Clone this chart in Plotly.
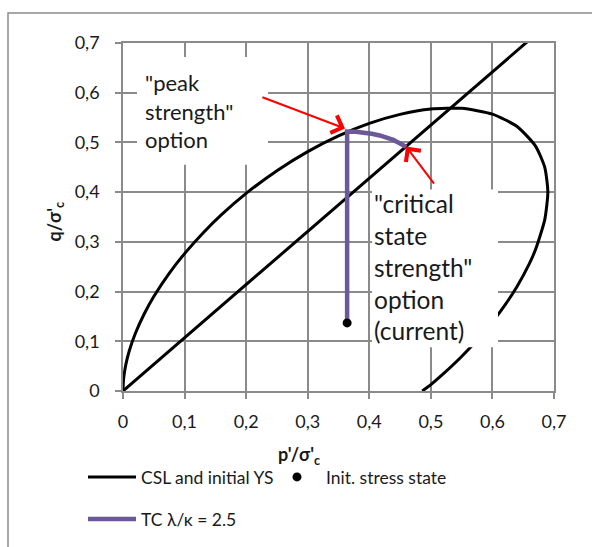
import plotly.graph_objects as go

# Critical state line q = M p'
csl_p = [0.0, 0.70]
csl_q = [0.0, 0.749]

# Initial yield surface (inclined ellipse), upper branch then lower branch
ys_p = [0.0, 0.0005, 0.002, 0.005, 0.01, 0.02, 0.035, 0.05, 0.075, 0.10, 0.13, 0.16,
        0.20, 0.25, 0.30, 0.35, 0.40, 0.45, 0.50, 0.55, 0.60, 0.64, 0.67, 0.685, 0.69,
        0.685, 0.67, 0.66, 0.64, 0.62, 0.60, 0.58, 0.55, 0.52, 0.50, 0.486]
ys_q = [0.0, 0.017, 0.0345, 0.0555, 0.080, 0.1157, 0.1564, 0.1899, 0.2366, 0.2764, 0.318, 0.3547,
        0.3975, 0.4432, 0.4816, 0.5132, 0.5383, 0.5565, 0.5672, 0.5685, 0.557, 0.5321, 0.4927, 0.4499, 0.4002,
        0.3447, 0.2845, 0.2563, 0.2103, 0.1723, 0.139, 0.1093, 0.0695, 0.0343, 0.0128, 0.0]

# Initial stress state
init_p = [0.364]
init_q = [0.137]

# Triaxial compression stress path: vertical rise, then along the yield surface to the CSL
tc_p = [0.364, 0.364, 0.378, 0.390, 0.404, 0.417, 0.428, 0.439, 0.450, 0.460]
tc_q = [0.137, 0.522, 0.5215, 0.520, 0.5175, 0.514, 0.510, 0.505, 0.498, 0.491]

tick_vals = [0.0, 0.1, 0.2, 0.3, 0.4, 0.5, 0.6, 0.7]
tick_text = ["0", "0,1", "0,2", "0,3", "0,4", "0,5", "0,6", "0,7"]

FONT = "Lato"
GRID = "#8a8a8a"
PURPLE = "#6c5a98"

fig = go.Figure()

fig.add_trace(go.Scatter(x=csl_p, y=csl_q, mode="lines", name="CSL and initial YS",
                         line=dict(color="black", width=3), legend="legend"))
fig.add_trace(go.Scatter(x=ys_p, y=ys_q, mode="lines", showlegend=False,
                         line=dict(color="black", width=3, shape="spline", smoothing=0.6)))
fig.add_trace(go.Scatter(x=tc_p, y=tc_q, mode="lines", name="TC \u03bb/\u03ba = 2.5",
                         line=dict(color=PURPLE, width=4.5), legend="legend2"))
fig.add_trace(go.Scatter(x=init_p, y=init_q, mode="markers", name="Init. stress state",
                         marker=dict(color="black", size=9), legend="legend"))

axis_common = dict(
    range=[0, 0.7], tickvals=tick_vals, ticktext=tick_text,
    showgrid=True, gridcolor=GRID, gridwidth=1.5,
    showline=True, linecolor=GRID, linewidth=1.5, mirror=True,
    zeroline=False, ticks="outside", ticklen=6, tickcolor=GRID, tickwidth=1.5,
    tickfont=dict(family=FONT, size=18, color="#1a1a1a"),
)
fig.update_xaxes(**axis_common, ticklabelstandoff=8)
fig.update_yaxes(**axis_common, ticklabelstandoff=12)

W, H = 592, 547
L, R, T, B = 123, 38, 43, 155
pw, ph = W - L - R, H - T - B


def px(x):
    return (x - L) / pw


def py(y):
    return (H - B - y) / ph


shapes = [
    # chart frame
    dict(type="rect", xref="paper", yref="paper", x0=px(8), x1=1.3, y0=-1.0, y1=py(13),
         line=dict(color="#8c8c8c", width=1.5), fillcolor="rgba(0,0,0,0)", layer="below"),
    # text box backgrounds
    dict(type="rect", xref="paper", yref="paper", x0=px(137), x1=px(268), y0=py(165), y1=py(57),
         line=dict(width=0), fillcolor="white", layer="above"),
    dict(type="rect", xref="paper", yref="paper", x0=px(372), x1=px(498), y0=py(348), y1=py(190),
         line=dict(width=0), fillcolor="white", layer="above"),
]

annotations = [
    dict(xref="paper", yref="paper", x=px(143), y=py(111), xanchor="left", yanchor="middle",
         text='"peak<br>strength"<br>option', showarrow=False, align="left",
         font=dict(family=FONT, size=22, color="#1a1a1a")),
    dict(xref="paper", yref="paper", x=px(372), y=py(268), xanchor="left", yanchor="middle",
         text='"critical<br>state<br>strength"<br>option<br>(current)', showarrow=False, align="left",
         font=dict(family=FONT, size=24.5, color="#1a1a1a")),
    # arrows to the two strength options
    dict(x=0.3606, y=0.528, ax=0.224, ay=0.592, xref="x", yref="y", axref="x", ayref="y",
         text="", showarrow=True, arrowhead=4, arrowsize=1.8, arrowwidth=2, arrowcolor="#ff0000",
         standoff=0),
    dict(x=0.4597, y=0.4916, ax=0.507, ay=0.414, xref="x", yref="y", axref="x", ayref="y",
         text="", showarrow=True, arrowhead=4, arrowsize=1.8, arrowwidth=2, arrowcolor="#ff0000",
         standoff=0),
    # axis titles
    dict(xref="paper", yref="paper", x=px(299), y=py(457), xanchor="center", yanchor="middle",
         text="<b>p'/\u03c3'<sub>c</sub></b>", showarrow=False,
         font=dict(family=FONT, size=18, color="#1a1a1a")),
    dict(xref="paper", yref="paper", x=px(55), y=py(222), xanchor="center", yanchor="middle",
         text="<b>q/\u03c3'<sub>c</sub></b>", showarrow=False, textangle=-90,
         font=dict(family=FONT, size=18, color="#1a1a1a")),
]

legend_font = dict(family=FONT, size=17.5, color="#1a1a1a")
fig.update_layout(
    width=W, height=H,
    margin=dict(l=L, r=R, t=T, b=B),
    paper_bgcolor="white", plot_bgcolor="white",
    showlegend=True,
    legend=dict(orientation="h", x=px(83), xanchor="left", y=py(477), yanchor="middle",
                itemwidth=48, entrywidth=122, font=legend_font, bgcolor="rgba(0,0,0,0)"),
    legend2=dict(orientation="h", x=px(83), xanchor="left", y=py(519), yanchor="middle",
                 itemwidth=48, font=legend_font, bgcolor="rgba(0,0,0,0)"),
    shapes=shapes,
    annotations=annotations,
)

fig.write_html("out.html")
